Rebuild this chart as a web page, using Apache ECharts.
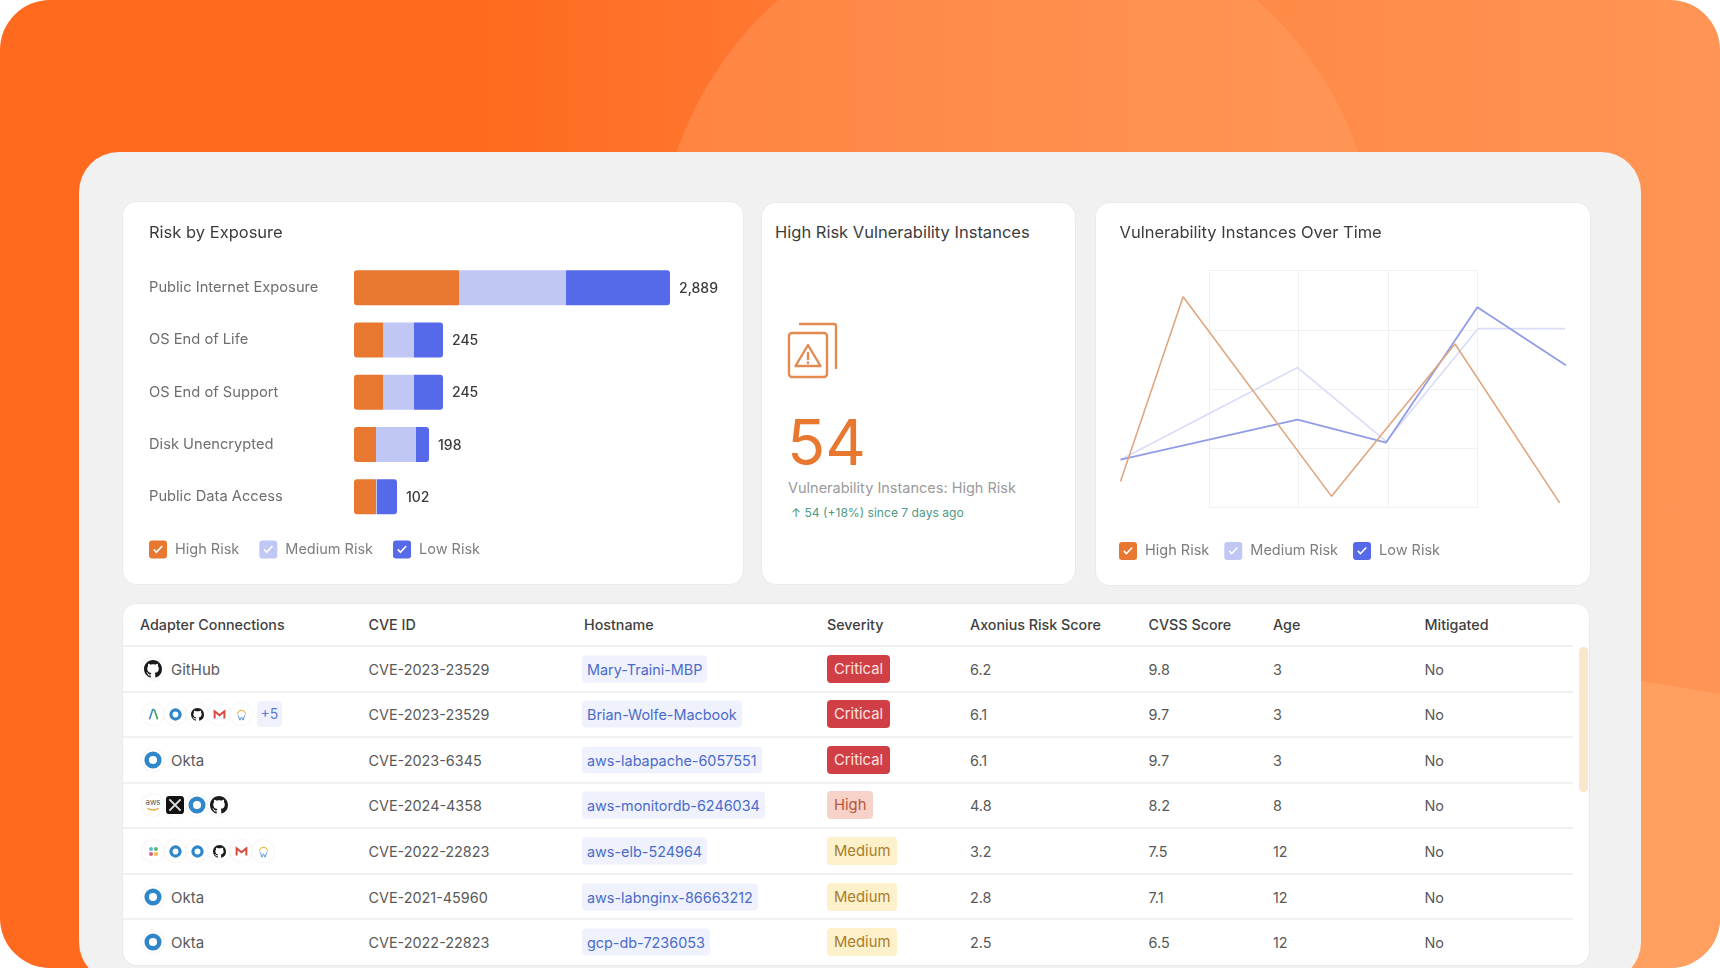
<!DOCTYPE html>
<html>
<head>
<meta charset="utf-8">
<title>Risk dashboard</title>
<script src="https://cdn.jsdelivr.net/npm/echarts@6/dist/echarts.min.js"></script>
<style>
    html, body { margin: 0; padding: 0; background: #fff; }
    body { width: 1720px; height: 968px; overflow: hidden; font-family: Inter, "Noto Sans", sans-serif; }
    #stage { position: absolute; left: 0; top: 0; width: 1720px; height: 968px; border-radius: 50px; overflow: hidden;
        background: linear-gradient(90deg, #ff6a1e 0%, #ff6a1e 28%, #ff7a35 48%, #ff8a48 75%, #ff9555 100%); }
    #sun { position: absolute; left: 657px; top: -91px; width: 721px; height: 721px; border-radius: 50%;
        background: linear-gradient(90deg, #ff8442 0%, #ff9656 100%); }
    #swell { position: absolute; left: 50px; top: 668px; width: 2800px; height: 2800px; border-radius: 50%; background: #ff9f60; }
    #panel { position: absolute; left: 79px; top: 152px; width: 1562px; height: 830px; border-radius: 40px; background: #f1f1f2; }
    .card { position: absolute; background: #fff; border-radius: 14px; box-shadow: 0 0 0 1px #e9eaef; }
    #riskCard { left: 123px; top: 202px; width: 620px; height: 382px; }
    #statCard { left: 762px; top: 203px; width: 313px; height: 381px; }
    #timeCard { left: 1096px; top: 203px; width: 494px; height: 382px; }
    #tableCard { left: 123px; top: 604px; width: 1466px; height: 361px; }
    .chart { position: absolute; left: 0; top: 0; width: 100%; height: 100%; }
    #statCard div, #statCard svg { position: absolute; white-space: nowrap; }
    #statTitle { left: 13px; top: 19px; font-size: 16.5px; line-height: 20px; color: #3c3c3c; }
    #statIcon { left: 25px; top: 119px; }
    #statValue { left: 25px; top: 204px; font-size: 63px; line-height: 70px; font-weight: 400; color: #e8782f; }
    #statLabel { left: 26px; top: 276px; font-size: 14.5px; line-height: 18px; color: #9b9b9b; }
    #statDelta { left: 29px; top: 302px; font-size: 12.1px; line-height: 16px; color: #4f9a82; }
    .cell { position: absolute; transform: translateY(-50%); white-space: nowrap; font-size: 14.4px; color: #595959; }
    .head { font-size: 14.3px; color: #3f3f3f; font-weight: 500; }
    .rowline { position: absolute; left: 0; width: 1450px; height: 2px; background: #f0f1f3; }
    .host { padding: 5px 5px; border-radius: 4px; background: #eff2fc; color: #4b6bca; font-size: 14.4px; margin-left: -2px; }
    .badge { padding: 5px 7px; border-radius: 4px; font-size: 14.8px; }
    .Critical { background: #d03f45; color: #fbe4e4; }
    .High { background: #f7d2c8; color: #b6573f; }
    .Medium { background: #fdf1cc; color: #a87d2a; }
    .chip { position: absolute; top: 50%; width: 22px; height: 22px; margin-top: -11px; border-radius: 50%; background: #fff;
        box-shadow: 0 0 2px #e3e3e6; display: flex; align-items: center; justify-content: center; }
    .more { position: absolute; top: 50%; margin-top: -13px; height: 26px; line-height: 26px; width: 25px; text-align: center;
        border-radius: 4px; background: #eff2fc; color: #5f7bd9; font-size: 14px; }
    .adapter { position: absolute; left: 0; width: 330px; height: 40px; transform: translateY(-50%); }
    .adapter span.name { position: absolute; left: 29px; top: 50%; transform: translateY(-50%); font-size: 15px; color: #595959; }
    #scrollThumb { position: absolute; left: 1456px; top: 43px; width: 9px; height: 145px; border-radius: 5px; background: #f9e6cc; }
</style>
</head>
<body>
<div id="stage">
    <div id="sun"></div>
    <div id="swell"></div>
    <div id="panel"></div>
    <div class="card" id="riskCard"><div class="chart" id="riskChart"></div></div>
    <div class="card" id="statCard">
        <div id="statTitle">High Risk Vulnerability Instances</div>
        <svg id="statIcon" width="52" height="58" viewBox="0 0 52 58" fill="none" stroke="#e28a52" stroke-width="2.4" stroke-linecap="round">
            <path d="M13 2 H47 Q49 2 49 4 V46" />
            <rect x="2" y="11" width="38" height="44" rx="3" />
            <path d="M21 23 L33.5 44 H8.5 Z" stroke-linejoin="round" />
            <path d="M21 31 V37 M21 40.5 V41" />
        </svg>
        <div id="statValue"></div>
        <div id="statLabel">Vulnerability Instances: High Risk</div>
        <div id="statDelta"></div>
    </div>
    <div class="card" id="timeCard"><div class="chart" id="timeChart"></div></div>
    <div class="card" id="tableCard"><div id="scrollThumb"></div></div>
</div>
<script>
// risk by exposure: the bars in the picture are not proportional to their totals,
// so segment lengths are read off the picture and the totals are kept apart
const exposureNames = ['Public Internet Exposure', 'OS End of Life', 'OS End of Support', 'Disk Unencrypted', 'Public Data Access'];
const exposureHigh = [105, 29, 29, 22, 22];
const exposureMedium = [107, 31, 31, 40, 1];
const exposureLow = [104, 29, 29, 13, 20];
const exposureTotals = ['2,889', '245', '245', '198', '102'];

// high risk card
const highRiskCount = 54;
const highRiskDelta = '↑ 54 (+18%) since 7 days ago';

// instances over time, [time, instances]
const trendHigh = [[0.01, 43], [0.71, 356], [2.37, 18], [3.75, 276], [4.92, 7]];
const trendMedium = [[0.01, 80], [1.99, 236], [2.98, 111], [4.01, 302], [4.98, 302]];
const trendLow = [[0.01, 80], [1.99, 148], [2.98, 109], [4.0, 338], [4.99, 240]];

// table
const tableHeaders = ['Adapter Connections', 'CVE ID', 'Hostname', 'Severity', 'Axonius Risk Score', 'CVSS Score', 'Age', 'Mitigated'];
const adapterNames = ['GitHub', '', 'Okta', '', '', 'Okta', 'Okta'];
const adapterIcons = [
    ['github'],
    ['arrow', 'okta', 'github', 'gmail', 'wiz'],
    ['okta'],
    ['aws', 'xdr', 'okta', 'github'],
    ['slack', 'okta', 'okta', 'github', 'gmail', 'wiz'],
    ['okta'],
    ['okta']
];
const adapterExtra = ['', '+5', '', '', '', '', ''];
const cveIds = ['CVE-2023-23529', 'CVE-2023-23529', 'CVE-2023-6345', 'CVE-2024-4358', 'CVE-2022-22823', 'CVE-2021-45960', 'CVE-2022-22823'];
const hostnames = ['Mary-Traini-MBP', 'Brian-Wolfe-Macbook', 'aws-labapache-6057551', 'aws-monitordb-6246034', 'aws-elb-524964', 'aws-labnginx-86663212', 'gcp-db-7236053'];
const severities = ['Critical', 'Critical', 'Critical', 'High', 'Medium', 'Medium', 'Medium'];
const riskScores = ['6.2', '6.1', '6.1', '4.8', '3.2', '2.8', '2.5'];
const cvssScores = ['9.8', '9.7', '9.7', '8.2', '7.5', '7.1', '6.5'];
const ages = ['3', '3', '3', '8', '12', '12', '12'];
const mitigated = ['No', 'No', 'No', 'No', 'No', 'No', 'No'];

const ORANGE = '#e8782f';
const LAVENDER = '#c1c7f4';
const BLUE = '#5669e8';
const FONT = 'Inter, "Noto Sans", sans-serif';

// checkbox legend icon, the tick is cut out of the rounded square
const CHECK_ICON = 'path://M3 0H15A3 3 0 0 1 18 3V15A3 3 0 0 1 15 18H3A3 3 0 0 1 0 15V3A3 3 0 0 1 3 0Z' +
    'M4.2 9.4L7.4 12.8L13.8 6L12.6 4.9L7.4 10.4L5.4 8.2Z';

function checkLegend(left, top) {
    return {
        left: left,
        top: top,
        icon: CHECK_ICON,
        itemWidth: 18,
        itemHeight: 18,
        itemGap: 20,
        selectedMode: false,
        textStyle: { fontFamily: FONT, fontSize: 14.5, color: '#7d7d7d', padding: [0, 0, 0, 3] }
    };
}

// 风险条形图
const riskChart = echarts.init(document.getElementById('riskChart'));
riskChart.setOption({
    animation: false,
    title: {
        text: 'Risk by Exposure',
        left: 21,
        top: 17.5,
        textStyle: { fontFamily: FONT, fontSize: 16.5, fontWeight: 'normal', color: '#3c3c3c' }
    },
    legend: checkLegend(21, 333.6),
    grid: { left: 231, top: 59.6, width: 316, height: 261.2 },
    xAxis: { type: 'value', min: 0, max: 316, show: false },
    yAxis: {
        type: 'category',
        inverse: true,
        data: exposureNames,
        axisLine: { show: false },
        axisTick: { show: false },
        axisLabel: { align: 'left', margin: 205, padding: [3, 0, 0, 0], fontFamily: FONT, fontSize: 14.7, color: '#6e6e6e' }
    },
    series: [
        {
            name: 'High Risk',
            type: 'bar',
            stack: 'risk',
            barWidth: 35,
            data: exposureHigh,
            itemStyle: { color: ORANGE, borderRadius: [3, 0, 0, 3] }
        },
        {
            name: 'Medium Risk',
            type: 'bar',
            stack: 'risk',
            data: exposureMedium,
            itemStyle: { color: LAVENDER }
        },
        {
            name: 'Low Risk',
            type: 'bar',
            stack: 'risk',
            data: exposureLow,
            itemStyle: { color: BLUE, borderRadius: [0, 3, 3, 0] },
            label: {
                show: true,
                position: 'right',
                distance: 9,
                offset: [0, 1],
                fontFamily: FONT,
                fontSize: 14,
                fontWeight: 500,
                color: '#3a3a3a',
                formatter: function (p) { return exposureTotals[p.dataIndex]; }
            }
        }
    ]
});

// 趋势折线图: the gridlines only cover the middle, the lines run past them,
// so one grid carries the gridlines and a wider one on the same scale the lines
const timeChart = echarts.init(document.getElementById('timeChart'));
const timeLegend = checkLegend(18, 334);
timeLegend.itemGap = 15;
timeLegend.lineStyle = { width: 0 };
const hiddenAxis = {
    axisLine: { show: false },
    axisTick: { show: false },
    axisLabel: { show: false }
};
const gridLine = { lineStyle: { color: '#f1f1f3' } };
timeChart.setOption({
    animation: false,
    title: {
        text: 'Vulnerability Instances Over Time',
        left: 18.5,
        top: 16.7,
        textStyle: { fontFamily: FONT, fontSize: 16.5, fontWeight: 'normal', color: '#3c3c3c' }
    },
    legend: timeLegend,
    grid: [
        { left: 113, top: 67.7, width: 268.3, height: 236.3 },
        { left: 23.6, top: 67.7, width: 447.2, height: 236.3 }
    ],
    xAxis: [
        { ...hiddenAxis, type: 'value', gridIndex: 0, min: 1, max: 4, interval: 1, splitLine: gridLine },
        { ...hiddenAxis, type: 'value', gridIndex: 1, min: 0, max: 5, splitLine: { show: false } }
    ],
    yAxis: [
        { ...hiddenAxis, type: 'value', gridIndex: 0, min: 0, max: 400, interval: 100, splitLine: gridLine },
        { ...hiddenAxis, type: 'value', gridIndex: 1, min: 0, max: 400, splitLine: { show: false } }
    ],
    series: [
        {
            name: 'High Risk',
            type: 'line',
            xAxisIndex: 1,
            yAxisIndex: 1,
            z: 4,
            symbol: 'none',
            data: trendHigh,
            itemStyle: { color: ORANGE },
            lineStyle: { color: '#dfa67f', width: 1.6 }
        },
        {
            name: 'Medium Risk',
            type: 'line',
            xAxisIndex: 1,
            yAxisIndex: 1,
            z: 2,
            symbol: 'none',
            data: trendMedium,
            itemStyle: { color: LAVENDER },
            lineStyle: { color: '#d9dcf8', width: 1.6 }
        },
        {
            name: 'Low Risk',
            type: 'line',
            xAxisIndex: 1,
            yAxisIndex: 1,
            z: 3,
            symbol: 'none',
            data: trendLow,
            itemStyle: { color: BLUE },
            lineStyle: { color: '#929ce6', width: 1.8 }
        }
    ]
});

// 统计卡片
document.getElementById('statValue').textContent = highRiskCount;
document.getElementById('statDelta').textContent = highRiskDelta;

// 适配器小图标
const GITHUB_PATH = 'M8 0C3.58 0 0 3.58 0 8c0 3.54 2.29 6.53 5.47 7.59.4.07.55-.17.55-.38 0-.19-.01-.82-.01-1.49-2.01.37-2.53-.49-2.69-.94-.09-.23-.48-.94-.82-1.13-.28-.15-.68-.52-.01-.53.63-.01 1.08.58 1.23.82.72 1.21 1.87.87 2.33.66.07-.52.28-.87.51-1.07-1.78-.2-3.64-.89-3.64-3.95 0-.87.31-1.59.82-2.15-.08-.2-.36-1.02.08-2.12 0 0 .67-.21 2.2.82.64-.18 1.32-.27 2-.27.68 0 1.36.09 2 .27 1.53-1.04 2.2-.82 2.2-.82.44 1.1.16 1.92.08 2.12.51.56.82 1.27.82 2.15 0 3.07-1.87 3.75-3.65 3.95.29.25.54.73.54 1.48 0 1.07-.01 1.93-.01 2.2 0 .21.15.46.55.38A8.013 8.013 0 0016 8c0-4.42-3.58-8-8-8z';

function iconSvg(name, size) {
    const open = '<svg width="' + size + '" height="' + size + '" viewBox="0 0 16 16">';
    let body = '';
    if (name === 'github') body = '<path fill="#1b1b1b" d="' + GITHUB_PATH + '"/>';
    if (name === 'okta') body = '<circle cx="8" cy="8" r="5.6" fill="none" stroke="#2f86c8" stroke-width="4"/>';
    if (name === 'arrow') body = '<path d="M3 14L7 2H9" fill="none" stroke="#3c8fd0" stroke-width="2"/><path d="M9 2L13 14" fill="none" stroke="#4aa36b" stroke-width="2"/>';
    if (name === 'gmail') body = '<path d="M2 13V4L8 9L14 4V13" fill="none" stroke="#d8483b" stroke-width="2.4"/>';
    if (name === 'wiz') body = '<path d="M3 8A5 5 0 0 1 13 8" fill="none" stroke="#edbb4a" stroke-width="1.6"/><path d="M4 9L6 15L8 11L10 15L12 9" fill="none" stroke="#5f92d8" stroke-width="1.2"/>';
    if (name === 'aws') body = '<text x="8" y="8" font-size="7" text-anchor="middle" fill="#555">aws</text><path d="M3 11Q8 14 13 11" fill="none" stroke="#f0a63a" stroke-width="1.3"/>';
    if (name === 'xdr') body = '<rect width="16" height="16" rx="3" fill="#111"/><path d="M3 3L13 13M13 3L3 13" stroke="#ddd" stroke-width="1.8"/>';
    if (name === 'slack') body = '<circle cx="5" cy="5" r="2.5" fill="#5fb8d8"/><circle cx="11" cy="5" r="2.5" fill="#5fb57a"/><circle cx="5" cy="11" r="2.5" fill="#d85f86"/><circle cx="11" cy="11" r="2.5" fill="#edbb4a"/>';
    return open + body + '</svg>';
}

// 表格
function buildTable() {
    const table = document.getElementById('tableCard');
    const columnLeft = [17, 245.5, 461, 704, 847, 1025.5, 1150, 1301.5];
    const valueColumns = [cveIds, hostnames, severities, riskScores, cvssScores, ages, mitigated];
    const rowCenter = function (i) { return 64.6 + i * 45.6; };
    let html = '';

    tableHeaders.forEach(function (text, c) {
        html += '<div class="cell head" style="left:' + columnLeft[c] + 'px;top:20px">' + text + '</div>';
    });

    for (let r = 0; r < cveIds.length; r++) {
        html += '<div class="rowline" style="top:' + (41 + r * 45.5) + 'px"></div>';

        // 适配器列
        const icons = adapterIcons[r];
        const small = icons.length > 4;
        let chips = '';
        icons.forEach(function (name, i) {
            chips += '<div class="chip" style="left:' + (i * 22) + 'px">' + iconSvg(name, small ? 13 : 18) + '</div>';
        });
        if (adapterExtra[r]) {
            chips += '<div class="more" style="left:' + (icons.length * 22 + 5) + 'px">' + adapterExtra[r] + '</div>';
        }
        if (adapterNames[r]) chips += '<span class="name">' + adapterNames[r] + '</span>';
        html += '<div class="adapter" style="left:19px;top:' + rowCenter(r) + 'px">' + chips + '</div>';

        valueColumns.forEach(function (col, c) {
            let cls = 'cell';
            if (col === hostnames) cls += ' host';
            if (col === severities) cls += ' badge ' + severities[r];
            html += '<div class="' + cls + '" style="left:' + columnLeft[c + 1] + 'px;top:' + rowCenter(r) + 'px">' + col[r] + '</div>';
        });
    }
    table.insertAdjacentHTML('beforeend', html);
}
buildTable();
</script>
</body>
</html>
